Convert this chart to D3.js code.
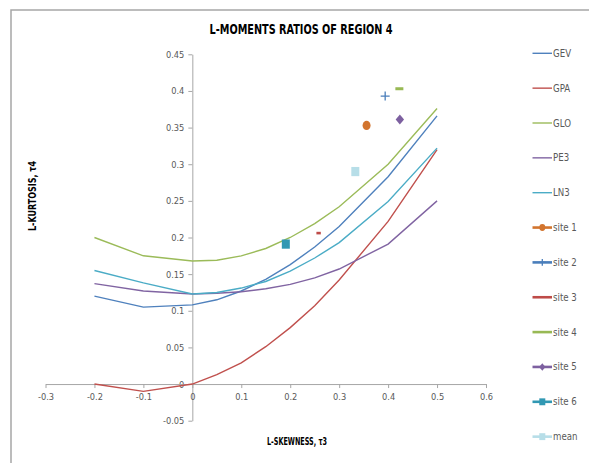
<!DOCTYPE html>
<html><head><meta charset="utf-8">
<script src="https://cdn.jsdelivr.net/npm/d3@7"></script>
<style>
body{margin:0;background:#fff;}
text{font-family:"Liberation Sans Narrow","DejaVu Sans Condensed","Liberation Sans",sans-serif;}
</style>
</head><body>
<svg id="c" width="589" height="463"></svg>
<script>
// ---- data ----
const tau3 = [-0.2, -0.1, 0, 0.05, 0.1, 0.15, 0.2, 0.25, 0.3, 0.4, 0.5];
const GEV = [0.120, 0.105, 0.108, 0.115, 0.127, 0.143, 0.163, 0.187, 0.215, 0.283, 0.366];
const GPA = [0.000, -0.010, 0.000, 0.013, 0.029, 0.051, 0.077, 0.107, 0.142, 0.222, 0.320];
const GLO = [0.200, 0.175, 0.168, 0.169, 0.175, 0.185, 0.200, 0.219, 0.242, 0.300, 0.376];
const PE3 = [0.137, 0.127, 0.123, 0.124, 0.126, 0.130, 0.136, 0.145, 0.157, 0.191, 0.250];
const LN3 = [0.155, 0.138, 0.123, 0.125, 0.131, 0.140, 0.154, 0.172, 0.193, 0.249, 0.322];
const siteNames = ["site 1", "site 2", "site 3", "site 4", "site 5", "site 6", "mean"];
const siteT3 = [0.356, 0.394, 0.258, 0.423, 0.424, 0.191, 0.333];
const siteT4 = [0.353, 0.393, 0.206, 0.403, 0.361, 0.191, 0.290];
const xTicks = [-0.3, -0.2, -0.1, 0, 0.1, 0.2, 0.3, 0.4, 0.5, 0.6];
const yTicks = [-0.05, 0, 0.05, 0.1, 0.15, 0.2, 0.25, 0.3, 0.35, 0.4, 0.45];

const curves = [
  {name: "GEV", vals: GEV, color: "#4F81BD"},
  {name: "GPA", vals: GPA, color: "#C0504D"},
  {name: "GLO", vals: GLO, color: "#9BBB59"},
  {name: "PE3", vals: PE3, color: "#8064A2"},
  {name: "LN3", vals: LN3, color: "#4BACC6"}
];
const siteStyle = [
  {color: "#D2742E", shape: "circle"},
  {color: "#4A7EBB", shape: "plus"},
  {color: "#BE4B48", shape: "dash-small"},
  {color: "#98B954", shape: "dash"},
  {color: "#7D60A0", shape: "diamond"},
  {color: "#3198B3", shape: "square"},
  {color: "#B7DEE8", shape: "square"}
];

const svg = d3.select("#c");
const x = d3.scaleLinear().domain([-0.3, 0.6]).range([45.5, 486]);
const y = d3.scaleLinear().domain([-0.05, 0.45]).range([420.7, 54.3]);

// outer border (left and top visible)
svg.append("rect").attr("x", 11).attr("y", 10).attr("width", 620).attr("height", 500)
  .attr("fill", "none").attr("stroke", "#A6A6A6").attr("stroke-width", 1.5);

// title
svg.append("text").attr("x", 301).attr("y", 34).attr("text-anchor", "middle")
  .attr("font-size", 13.5).attr("font-weight", "bold").attr("fill", "#000")
  .attr("textLength", 183).attr("lengthAdjust", "spacingAndGlyphs")
  .text("L-MOMENTS RATIOS OF REGION 4");

// axes
const axisColor = "#A6A6A6";
const fmt = d => String(+d.toFixed(2));
const yAxis = svg.append("g").attr("transform", `translate(${x(0)},0)`)
  .call(d3.axisLeft(y).tickValues(yTicks).tickSize(4).tickSizeOuter(0).tickFormat(fmt));
const xAxis = svg.append("g").attr("transform", `translate(0,${y(0)})`)
  .call(d3.axisBottom(x).tickValues(xTicks).tickSize(4).tickSizeOuter(0).tickFormat(fmt));
[xAxis, yAxis].forEach(g => {
  g.select(".domain").attr("stroke", axisColor);
  g.selectAll(".tick line").attr("stroke", axisColor);
  g.selectAll(".tick text").attr("fill", "#595959").attr("font-size", 9.2)
    .style("font-family", '"Liberation Sans Narrow","DejaVu Sans Condensed",sans-serif');
});
yAxis.selectAll(".tick text").attr("x", -8);
xAxis.selectAll(".tick text").attr("y", 9);

// axis titles
svg.append("text").attr("x", 297).attr("y", 445).attr("text-anchor", "middle")
  .attr("font-size", 10).attr("font-weight", "bold").attr("fill", "#000")
  .attr("textLength", 60).attr("lengthAdjust", "spacingAndGlyphs")
  .text("L-SKEWNESS, τ3");
svg.append("text").attr("transform", "translate(36,196) rotate(-90)").attr("text-anchor", "middle")
  .attr("font-size", 10).attr("font-weight", "bold").attr("fill", "#000")
  .attr("textLength", 70).attr("lengthAdjust", "spacingAndGlyphs")
  .text("L-KURTOSIS, τ4");

// curves
const line = d3.line().x(d => x(d[0])).y(d => y(d[1]));
curves.forEach(c => {
  svg.append("path").datum(tau3.map((t, i) => [t, c.vals[i]]))
    .attr("d", line).attr("fill", "none").attr("stroke", c.color).attr("stroke-width", 1.4);
});

// markers
function marker(g, shape, color, cx, cy, s) {
  if (shape === "circle") {
    g.append("ellipse").attr("cx", cx).attr("cy", cy).attr("rx", 4 * s).attr("ry", 4.6 * s).attr("fill", color);
  } else if (shape === "plus") {
    g.append("path").attr("d", `M${cx - 4.5 * s},${cy}H${cx + 4.5 * s}M${cx},${cy - 4.5 * s}V${cy + 4.5 * s}`)
      .attr("stroke", color).attr("stroke-width", 1.3).attr("fill", "none");
  } else if (shape === "dash") {
    g.append("rect").attr("x", cx - 4 * s).attr("y", cy - 1.5).attr("width", 8 * s).attr("height", 3).attr("fill", color);
  } else if (shape === "dash-small") {
    g.append("rect").attr("x", cx - 2.2 * s).attr("y", cy - 1.3).attr("width", 4.4 * s).attr("height", 2.6).attr("fill", color);
  } else if (shape === "diamond") {
    g.append("path").attr("d", `M${cx},${cy - 5 * s}L${cx + 4.2 * s},${cy}L${cx},${cy + 5 * s}L${cx - 4.2 * s},${cy}Z`).attr("fill", color);
  } else if (shape === "square") {
    g.append("rect").attr("x", cx - 4 * s).attr("y", cy - 4.6 * s).attr("width", 8 * s).attr("height", 9.2 * s).attr("fill", color);
  }
}
const mk = svg.append("g");
siteNames.forEach((n, i) => {
  marker(mk, siteStyle[i].shape, siteStyle[i].color, x(siteT3[i]), y(siteT4[i]), 1);
});

// legend
const legendNames = curves.map(c => c.name).concat(siteNames);
const lg = svg.append("g");
legendNames.forEach((n, i) => {
  const ly = 53.3 + i * 34.85;
  const isCurve = i < curves.length;
  const color = isCurve ? curves[i].color : siteStyle[i - curves.length].color;
  lg.append("line").attr("x1", 532.5).attr("x2", 552).attr("y1", ly).attr("y2", ly)
    .attr("stroke", color).attr("stroke-width", isCurve ? 1.4 : 2.6);
  if (!isCurve) {
    const st = siteStyle[i - curves.length];
    if (st.shape === "circle" || st.shape === "plus" || st.shape === "diamond" || st.shape === "square") {
      marker(lg, st.shape, color, 542.3, ly, 0.75);
    }
  }
  lg.append("text").attr("x", 553).attr("y", ly + 3.5).attr("font-size", 9.6).attr("fill", "#595959").text(n);
});
</script>
</body></html>
